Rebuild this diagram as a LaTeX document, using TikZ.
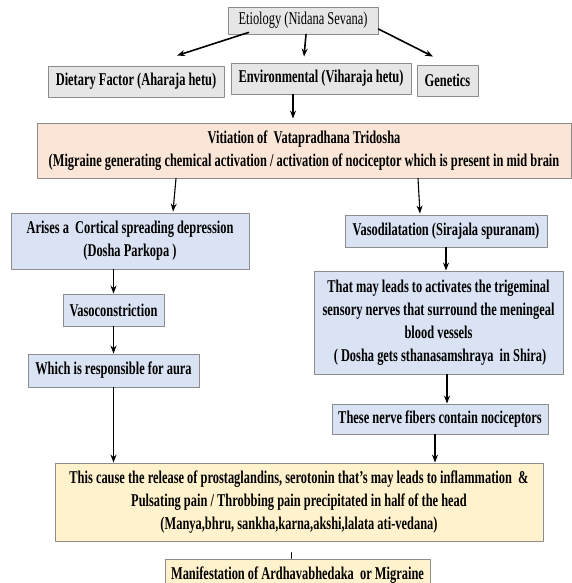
\documentclass[tikz,border=0pt]{standalone}
\usepackage{fontspec}
\setmainfont{Liberation Serif}[FakeStretch=0.69]
\usepackage{tikz}
\usetikzlibrary{arrows.meta}

\definecolor{boxgray}{HTML}{E6E6E6}
\definecolor{boxpeach}{HTML}{FBE5D6}
\definecolor{boxblue}{HTML}{DAE3F3}
\definecolor{boxyellow}{HTML}{FFF2CC}
\definecolor{edgegray}{HTML}{8C8C8C}

\begin{document}
\begin{tikzpicture}[
						x=1pt, y=-1pt,
						every node/.style={font=\fontsize{18pt}{23pt}\selectfont\bfseries, align=center, inner sep=0pt},
						basebox/.style={draw=edgegray, line width=0.9pt},
						graybox/.style={basebox, fill=boxgray},
						peachbox/.style={basebox, fill=boxpeach},
						bluebox/.style={basebox, fill=boxblue},
						yellowbox/.style={basebox, fill=boxyellow},
						arr/.style={-{Stealth[length=8pt,width=6pt]}, line width=1.1pt},
						toparr/.style={arr, line width=1.6pt},
						line cap=round,
						line join=round
						]
						
						\useasboundingbox (0,0) rectangle (572,583);
						\clip (0,0) rectangle (572,583);
						
						% Causes
						\node[graybox, minimum width=150pt, minimum height=27pt, font=\fontsize{18pt}{23pt}\selectfont] (etio) at (303,20.5) {Etiology (Nidana Sevana)};
						\node[graybox, minimum width=176pt, minimum height=31pt] (diet) at (136,81.5) {Dietary Factor (Aharaja hetu)};
						\node[graybox, minimum width=180pt, minimum height=31pt] (envi) at (321,78.5) {Environmental (Viharaja hetu)};
						\node[graybox, minimum width=61pt, minimum height=31pt] (gene) at (447.5,80.5) {Genetics};
						
						\node[peachbox, minimum width=534pt, minimum height=55pt] (viti) at (304,150.5)
						{Vitiation of \ Vatapradhana Tridosha\\(Migraine generating chemical activation / activation of nociceptor which is present in mid brain};
						
						% Left branch
						\node[bluebox, minimum width=238pt, minimum height=56pt] (arises) at (130,241)
						{Arises a \ Cortical spreading depression\\(Dosha Parkopa )};
						\node[bluebox, minimum width=101pt, minimum height=32pt] (vcon) at (113.5,310) {Vasoconstriction};
						\node[bluebox, minimum width=171pt, minimum height=33pt] (aura) at (113.5,370.5) {Which is responsible for aura};
						
						% Right branch
						\node[bluebox, minimum width=202pt, minimum height=32pt] (vdil) at (446,231) {Vasodilatation (Sirajala spuranam)};
						\node[bluebox, minimum width=249pt, minimum height=103pt] (trig) at (438.5,322.5)
						{That may leads to activates the trigeminal\\sensory nerves that surround the meningeal\\blood vessels\\\ ( Dosha gets sthanasamshraya \ in Shira)};
						\node[bluebox, minimum width=216pt, minimum height=30pt] (noci) at (440,419) {These nerve fibers contain nociceptors};
						
						% Outcome
						\node[yellowbox, minimum width=488pt, minimum height=78pt] (rel) at (299,502)
						{This cause the release of prostaglandins, serotonin that’s may leads to inflammation \ \&\\Pulsating pain / Throbbing pain precipitated in half of the head\\(Manya,bhru, sankha,karna,akshi,lalata ati-vedana)};
						\node[yellowbox, minimum width=265pt, minimum height=32pt] (mani) at (297.5,575) {Manifestation of Ardhavabhedaka \ or Migraine};
						
						\draw[toparr] ([xshift=21pt,yshift=2pt]etio.south west) -- ([xshift=41pt,yshift=10pt]diet.north);
						\draw[toparr] ([xshift=3pt]etio.south) -- ([xshift=-17pt,yshift=6pt]envi.north);
						\draw[toparr] ([yshift=-8.5pt]etio.east) -- ([xshift=-14.5pt,yshift=8pt]gene.north);
						\draw[arr] ([xshift=-28pt]envi.south) -- ([xshift=-11pt,yshift=4pt]viti.north);
						
						\draw[arr] ([xshift=-128pt]viti.south) -- ([xshift=43pt,yshift=1pt]arises.north);
						\draw[arr] ([xshift=114pt]viti.south) -- ([xshift=-26pt,yshift=1pt]vdil.north);
						
						\draw[arr] ([xshift=-16.5pt]arises.south) -- (vcon.north);
						\draw[arr] (vcon.south) -- (aura.north);
						\draw[arr] (aura.south) -- (aura.south |- rel.north);
						
						\draw[arr] (vdil.south) -- (vdil.south |- trig.north);
						\draw[arr] ([xshift=8.5pt]trig.south) -- ([xshift=7pt]noci.north);
						\draw[arr] ([xshift=-5pt]noci.south) -- ([xshift=-5pt]noci.south |- rel.north);
						
						\draw[line width=0.6pt] ([xshift=-8pt,yshift=-11pt]rel.south) -- ([xshift=-6.5pt]mani.north);
						
					\end{tikzpicture}
\end{document}
